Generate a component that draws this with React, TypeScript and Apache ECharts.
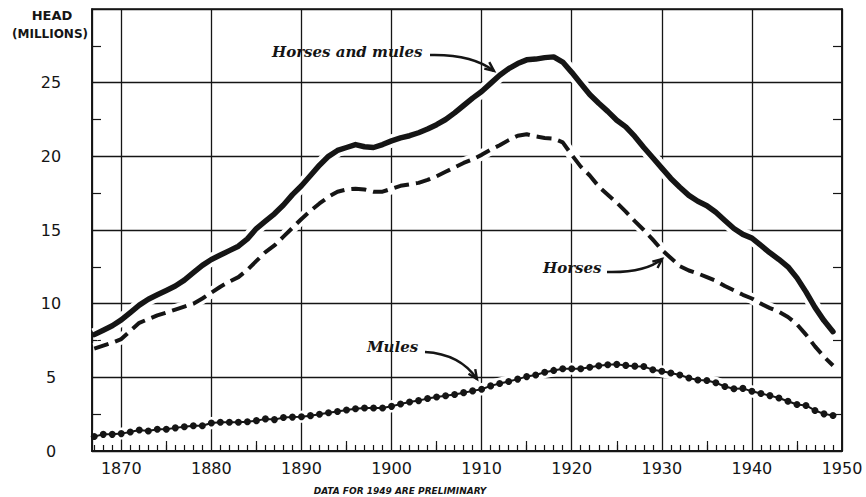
import React, { useEffect, useRef } from "react";
import * as echarts from "echarts";

// ---- data (head, millions), one value per year from START_YEAR ----
const START_YEAR = 1867;

const horsesAndMules = [
  7.9, 8.2, 8.5, 8.9, 9.4, 9.9, 10.3, 10.6, 10.9, 11.2, // 1867-1876
  11.6, 12.1, 12.6, 13.0, 13.3, 13.6, 13.9, 14.4, 15.1, 15.6, // 1877-1886
  16.1, 16.7, 17.4, 18.0, 18.7, 19.4, 20.0, 20.4, 20.6, 20.8, // 1887-1896
  20.65, 20.6, 20.8, 21.05, 21.25, 21.4, 21.6, 21.85, 22.15, 22.5, // 1897-1906
  22.95, 23.45, 23.95, 24.4, 24.95, 25.5, 25.95, 26.3, 26.55, 26.6, // 1907-1916
  26.7, 26.75, 26.4, 25.7, 24.95, 24.2, 23.6, 23.05, 22.45, 22.0, // 1917-1926
  21.35, 20.6, 19.9, 19.2, 18.5, 17.9, 17.35, 16.95, 16.65, 16.2, // 1927-1936
  15.65, 15.1, 14.7, 14.45, 13.95, 13.45, 13.0, 12.5, 11.75, 10.8, // 1937-1946
  9.75, 8.85, 8.1, // 1947-1949
];

const horses = [
  6.95, 7.15, 7.35, 7.6, 8.15, 8.7, 8.95, 9.2, 9.4, 9.6, // 1867-1876
  9.8, 10.0, 10.35, 10.75, 11.15, 11.5, 11.8, 12.3, 12.9, 13.5, // 1877-1886
  13.95, 14.55, 15.15, 15.75, 16.3, 16.8, 17.25, 17.6, 17.75, 17.8, // 1887-1896
  17.75, 17.6, 17.6, 17.8, 18.0, 18.1, 18.2, 18.4, 18.65, 18.95, // 1897-1906
  19.25, 19.55, 19.8, 20.1, 20.45, 20.75, 21.1, 21.4, 21.5, 21.35, // 1907-1916
  21.25, 21.2, 20.95, 20.1, 19.3, 18.7, 17.95, 17.4, 16.85, 16.25, // 1917-1926
  15.6, 15.0, 14.35, 13.65, 13.1, 12.55, 12.25, 12.05, 11.8, 11.55, // 1927-1936
  11.2, 10.9, 10.6, 10.35, 10.0, 9.7, 9.45, 9.1, 8.6, 7.9, // 1937-1946
  7.1, 6.4, 5.8, // 1947-1949
];

const mules = [
  0.99, 1.13, 1.13, 1.18, 1.29, 1.43, 1.36, 1.48, 1.48, 1.57, // 1867-1876
  1.64, 1.71, 1.71, 1.9, 1.95, 1.95, 1.95, 1.99, 2.06, 2.18, // 1877-1886
  2.13, 2.27, 2.3, 2.33, 2.4, 2.5, 2.6, 2.68, 2.78, 2.87, // 1887-1896
  2.92, 2.92, 2.92, 3.03, 3.19, 3.33, 3.42, 3.56, 3.66, 3.75, // 1897-1906
  3.84, 3.96, 4.08, 4.19, 4.42, 4.58, 4.72, 4.88, 5.05, 5.16, // 1907-1916
  5.35, 5.47, 5.58, 5.58, 5.58, 5.69, 5.78, 5.85, 5.88, 5.81, // 1917-1926
  5.76, 5.73, 5.52, 5.41, 5.29, 5.16, 4.95, 4.82, 4.78, 4.63, // 1927-1936
  4.38, 4.22, 4.25, 4.05, 3.9, 3.76, 3.6, 3.38, 3.16, 3.09, // 1937-1946
  2.75, 2.52, 2.41, // 1947-1949
];

// ---- axes ----
const X_MIN = 1866.75;
const X_MAX = 1950;
const X_LABELS = [1870, 1880, 1890, 1900, 1910, 1920, 1930, 1940, 1950];
const YEAR_TICKS = [
  1867, 1868, 1869, 1871, 1872, 1873, 1874, 1875, 1876, 1877, 1878, 1879,
  1881, 1882, 1883, 1884, 1885, 1886, 1887, 1888, 1889,
  1891, 1892, 1893, 1894, 1895, 1896, 1897, 1898, 1899,
  1901, 1902, 1903, 1904, 1905, 1906, 1907, 1908, 1909,
  1911, 1912, 1913, 1914, 1915, 1916, 1917, 1918, 1919,
  1921, 1922, 1923, 1924, 1925, 1926, 1927, 1928, 1929,
  1931, 1932, 1933, 1934, 1935, 1936, 1937, 1938, 1939,
  1941, 1942, 1943, 1944, 1945, 1946, 1947, 1948, 1949,
];
const FIVE_YEAR_TICKS = [1875, 1885, 1895, 1905, 1915, 1925, 1935, 1945];
const Y_MAX = 30;
const Y_STEP = 5;

const INK = "#151515";
const SANS = "'DejaVu Sans', sans-serif";
const SERIF = "'DejaVu Serif', serif";

function arrow(x0: number, y0: number, cx: number, cy: number, x1: number, y1: number) {
  const ang = Math.atan2(y1 - cy, x1 - cx);
  const L = 10;
  const a = 0.42;
  const p1 = [x1 - L * Math.cos(ang - a), y1 - L * Math.sin(ang - a)];
  const p2 = [x1 - L * Math.cos(ang + a), y1 - L * Math.sin(ang + a)];
  return [
    {
      type: "bezierCurve",
      shape: { x1: x0, y1: y0, cpx1: cx, cpy1: cy, x2: x1, y2: y1 },
      style: { stroke: INK, lineWidth: 2.4, fill: null },
      z: 20,
    },
    {
      type: "polyline",
      shape: { points: [p1, [x1, y1], p2] },
      style: { stroke: INK, lineWidth: 2.4, fill: null },
      z: 20,
    },
  ];
}

export default function App() {
  const ref = useRef<HTMLDivElement>(null);

  useEffect(() => {
    const chart = echarts.init(ref.current!, null, { renderer: "svg" });
    const pairs = (arr: number[]) => arr.map((v, i) => [START_YEAR + i, v]);

    const halo = (arr: number[], w: number) => ({
      type: "line",
      data: pairs(arr),
      symbol: "none",
      silent: true,
      z: 3,
      lineStyle: { color: "#ffffff", width: w, cap: "butt", join: "round" },
    });

    const tickAxis = (values: number[], length: number) => ({
      type: "value",
      min: X_MIN,
      max: X_MAX,
      position: "bottom",
      axisLine: { show: false },
      axisLabel: { show: false },
      splitLine: { show: false },
      axisTick: {
        show: true,
        inside: true,
        length,
        customValues: values,
        lineStyle: { color: INK, width: 1.2 },
      },
    });

    const yAxisBase = (position: string, labels: boolean, split: boolean) => ({
      type: "value",
      min: 0,
      max: Y_MAX,
      interval: Y_STEP,
      position,
      axisLine: { show: true, lineStyle: { color: INK, width: 1.6 } },
      axisTick: { show: false, inside: true },
      minorTick: {
        show: true,
        splitNumber: 2,
        length: 9,
        lineStyle: { color: INK, width: 1.2 },
      },
      axisLabel: {
        show: labels,
        formatter: (v: number) => (v >= Y_MAX ? "" : String(v)),
        align: "center",
        margin: 41,
        color: INK,
        fontSize: 16,
        fontFamily: SANS,
      },
      splitLine: { show: split, lineStyle: { color: INK, width: 1.3 } },
    });

    chart.setOption({
      animation: false,
      backgroundColor: "#ffffff",
      grid: {
        left: 92,
        top: 9,
        width: 750,
        height: 442,
        show: true,
        borderColor: INK,
        borderWidth: 1.6,
        backgroundColor: "transparent",
      },
      xAxis: [
        {
          type: "value",
          min: X_MIN,
          max: X_MAX,
          splitNumber: 8,
          position: "bottom",
          axisLine: { show: true, onZero: false, lineStyle: { color: INK, width: 2 } },
          axisTick: { show: false },
          axisLabel: {
            formatter: (v: number) => (X_LABELS.indexOf(v) >= 0 ? String(v) : ""),
            margin: 9,
            color: INK,
            fontSize: 16,
            fontFamily: SANS,
            showMinLabel: true,
            showMaxLabel: true,
          },
          splitLine: { show: true, lineStyle: { color: INK, width: 1.3 } },
        },
        tickAxis(YEAR_TICKS, 6),
        tickAxis(FIVE_YEAR_TICKS, 10),
      ],
      yAxis: [yAxisBase("left", true, true), yAxisBase("right", false, false)],
      series: [
        halo(horsesAndMules, 13),
        halo(horses, 11),
        halo(mules, 12),
        {
          name: "Horses and mules",
          type: "line",
          data: pairs(horsesAndMules),
          symbol: "none",
          z: 6,
          lineStyle: { color: INK, width: 5.5, cap: "round", join: "round" },
        },
        {
          name: "Horses",
          type: "line",
          data: pairs(horses),
          symbol: "none",
          z: 6,
          lineStyle: { color: INK, width: 4, type: [15, 7], join: "round" },
        },
        {
          name: "Mules",
          type: "line",
          data: pairs(mules),
          symbol: "circle",
          symbolSize: 7,
          z: 6,
          itemStyle: { color: INK, borderWidth: 0 },
          lineStyle: { color: INK, width: 2 },
        },
      ],
      graphic: [
        {
          type: "text",
          x: 52,
          y: 15,
          style: {
            text: "HEAD",
            fill: INK,
            font: `bold 13px ${SANS}`,
            textAlign: "center",
            textVerticalAlign: "middle",
          },
        },
        {
          type: "text",
          x: 50,
          y: 34,
          style: {
            text: "(MILLIONS)",
            fill: INK,
            font: `bold 12px ${SANS}`,
            textAlign: "center",
            textVerticalAlign: "middle",
          },
        },
        {
          type: "text",
          x: 400,
          y: 491,
          style: {
            text: "DATA FOR 1949 ARE PRELIMINARY",
            fill: INK,
            font: `italic bold 9px ${SANS}`,
            textAlign: "center",
            textVerticalAlign: "middle",
          },
        },
        {
          type: "text",
          x: 272,
          y: 52,
          z: 20,
          style: {
            text: "Horses and mules",
            fill: INK,
            font: `italic bold 15px ${SERIF}`,
            textAlign: "left",
            textVerticalAlign: "middle",
          },
        },
        {
          type: "text",
          x: 543,
          y: 268,
          z: 20,
          style: {
            text: "Horses",
            fill: INK,
            font: `italic bold 15px ${SERIF}`,
            textAlign: "left",
            textVerticalAlign: "middle",
          },
        },
        {
          type: "text",
          x: 367,
          y: 347,
          z: 20,
          style: {
            text: "Mules",
            fill: INK,
            font: `italic bold 15px ${SERIF}`,
            textAlign: "left",
            textVerticalAlign: "middle",
          },
        },
        ...arrow(430, 55, 472, 54, 494, 71),
        ...arrow(607, 272, 645, 273, 662, 259),
        ...arrow(425, 352, 460, 354, 477, 379),
      ],
    });

    return () => chart.dispose();
  }, []);

  return (
    <div
      ref={ref}
      style={{ position: "fixed", left: 0, top: 0, width: 866, height: 497, background: "#fff" }}
    />
  );
}
